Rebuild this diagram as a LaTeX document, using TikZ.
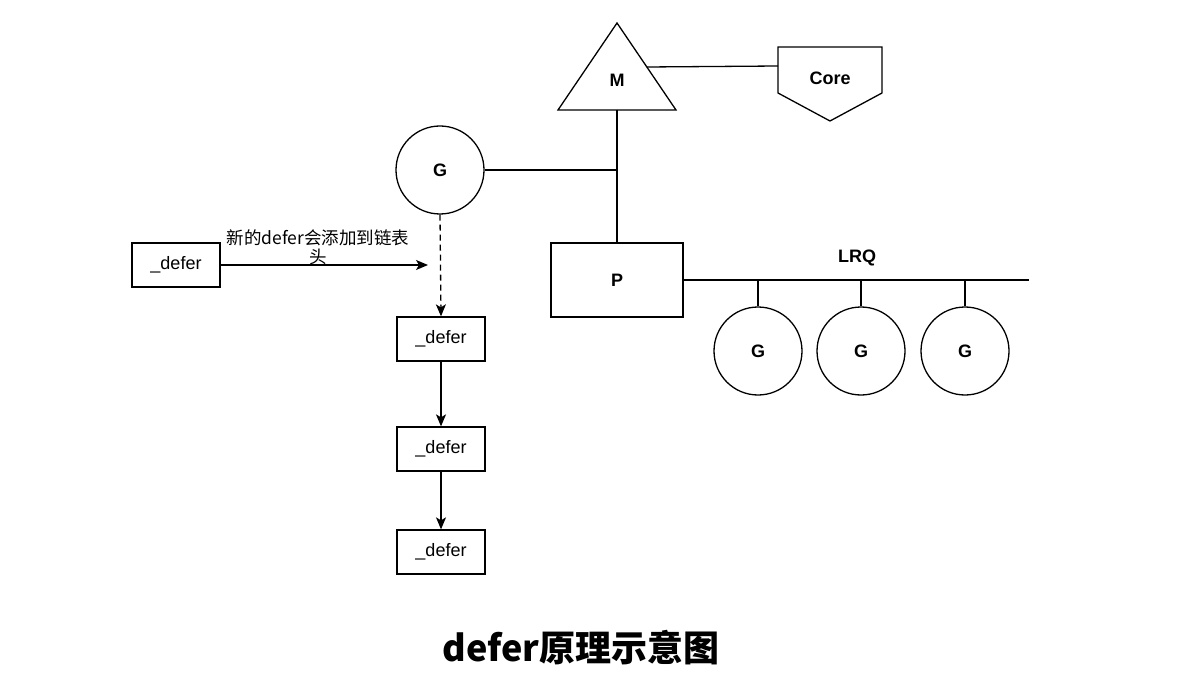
\documentclass[tikz,border=0pt]{standalone}
\usepackage{fontspec}
\setmainfont{Liberation Sans}
\newfontfamily\cjk{Noto Sans CJK SC}
\usetikzlibrary{arrows.meta}
\newcommand{\labfont}{\fontsize{18}{20}\selectfont}
\tikzset{
  box/.style={draw, minimum width=88pt, minimum height=44pt, inner sep=0pt, font=\labfont},
  gcirc/.style={draw, circle, minimum size=88pt, inner sep=0pt, font=\labfont\bfseries},
  txt/.style={inner sep=0pt, font=\labfont\bfseries},
  arr/.style={-{Stealth[length=12pt,width=10pt,inset=3pt]}},
  dsh/.style={dash pattern=on 6pt off 4pt}
}
\begin{document}
\begin{tikzpicture}[x=1pt,y=-1pt,line width=1.3pt]
\useasboundingbox (0,0) rectangle (1190,684);
% M triangle
\draw (617,23) -- (676,110) -- (558,110) -- cycle;
\node[txt] (m) at (617,80) {M};
\coordinate (mbase) at (617,110);
\coordinate (mright) at (647,67);
% Core
\draw (778,47) -- (882,47) -- (882,93) -- (830,121) -- (778,93) -- cycle;
\node[txt] (core) at (830,78) {Core};
\coordinate (coreleft) at (778,66);
\draw (mright) -- (coreleft);
% P
\node[draw, minimum width=132pt, minimum height=74pt, inner sep=0pt, font=\labfont\bfseries] (p) at (617,280) {P};
\draw (mbase) -- (p.north);
% G
\node[gcirc] (g0) at (440,170) {G};
\coordinate (j) at (617,170);
\draw (g0.east) -- (j);
% defers
\node[box] (d0) at (176,265) {\_defer};
\node[box] (d1) at (441,339) {\_defer};
\node[box] (d2) at (441,449) {\_defer};
\node[box] (d3) at (441,552) {\_defer};
\draw[arr,dsh] (g0.south) -- (d1.north);
\draw[arr] (d1) -- (d2);
\draw[arr] (d2) -- (d3);
\coordinate (tip) at (428,265);
\draw[arr] (d0.east) -- (tip);
\node[align=center, inner sep=0pt, font={\fontsize{17.5}{19}\selectfont\cjk}] (lbl) at (318,247) {新的defer会添加到链表\\头};
% LRQ
\coordinate (lrqend) at (1029,280);
\draw (p.east) -- (lrqend);
\node[txt] (lrq) at (857,258) {LRQ};
\node[gcirc] (g1) at (758,351) {G};
\node[gcirc] (g2) at (861,351) {G};
\node[gcirc] (g3) at (965,351) {G};
\draw (g1.north) -- (g1.north |- p.east);
\draw (g2.north) -- (g2.north |- p.east);
\draw (g3.north) -- (g3.north |- p.east);
% title
\node[inner sep=0pt, font={\fontsize{36}{42}\selectfont\cjk\bfseries}] (title) at (581,648) {defer原理示意图};
\end{tikzpicture}
\end{document}
